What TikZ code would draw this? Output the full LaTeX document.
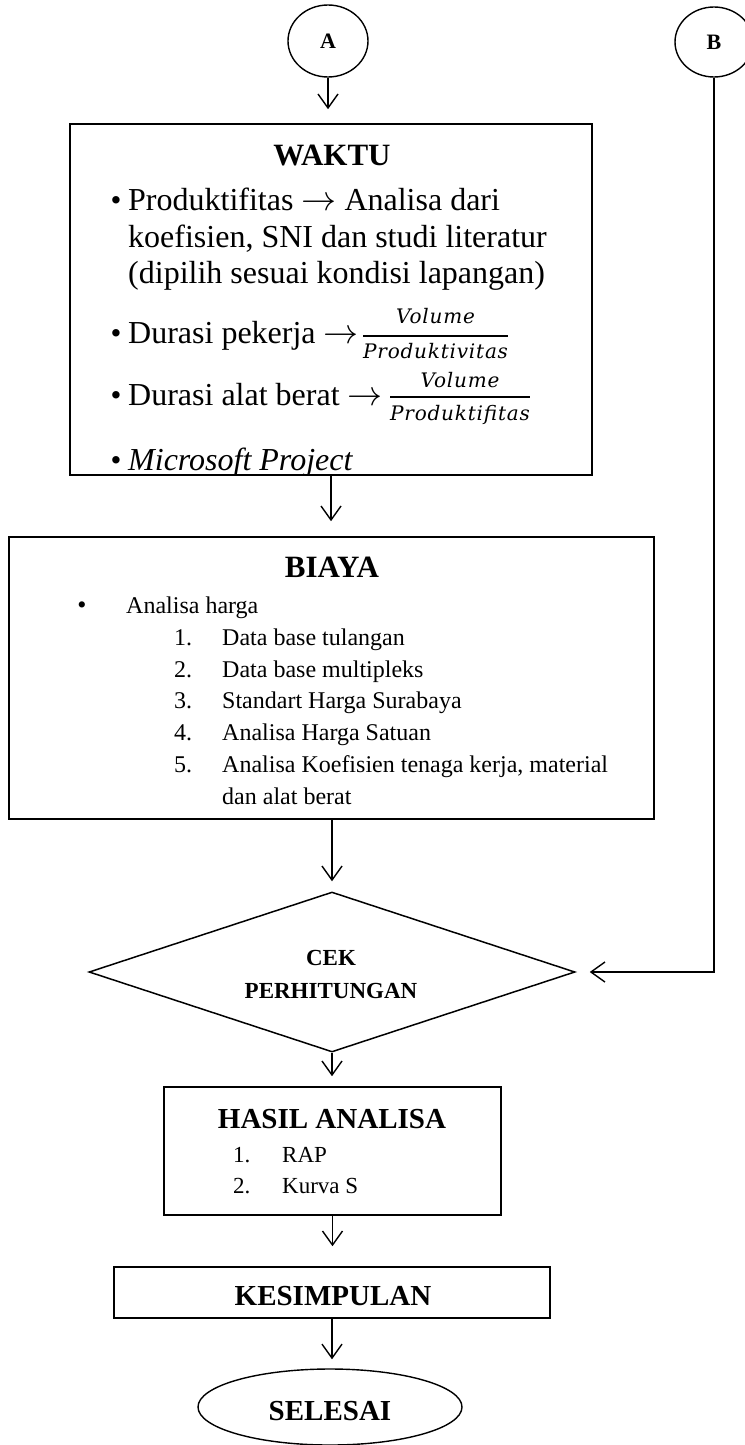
\RequirePackage{fix-cm}
\documentclass[tikz,border=0pt]{standalone}
\usepackage{fontspec}
\setmainfont{Liberation Serif}
\newfontfamily\fracfont[LetterSpace=4]{DejaVu Serif}
\newcommand\longarr{\resizebox{35pt}{!}{$\rightarrow$}}
\usetikzlibrary{shapes.geometric,arrows.meta}
\begin{document}
\begin{tikzpicture}[x=1pt,y=-1pt,
  box/.style={draw, rectangle, inner sep=0pt, line width=1.6pt},
  term/.style={draw, ellipse, inner sep=0pt, line width=1.4pt},
  arr/.style={-{Straight Barb[length=14pt,width=20pt,line width=1.4pt]}, line width=1.4pt},
  ttl/.style={anchor=base, inner sep=0pt, font=\bfseries\fontsize{31}{31}\selectfont},
  ttlb/.style={anchor=base, inner sep=0pt, font=\bfseries\fontsize{29}{29}\selectfont},
  ttlc/.style={anchor=base, inner sep=0pt, font=\bfseries\fontsize{23}{23}\selectfont},
  big/.style={anchor=base west, inner sep=0pt, font=\fontsize{32}{32}\selectfont},
  bul/.style={anchor=base, inner sep=0pt, font=\fontsize{31}{31}\selectfont},
  sml/.style={anchor=base west, inner sep=0pt, font=\fontsize{24}{24}\selectfont},
  smr/.style={anchor=base west, inner sep=0pt, font=\fontsize{23}{23}\selectfont},
  frc/.style={anchor=base, inner sep=0pt, font=\fracfont\itshape\fontsize{20}{20}\selectfont},
]
\useasboundingbox (0,0) rectangle (744,1445);

% shapes
\node[term, minimum width=80pt, minimum height=72pt, font=\bfseries\fontsize{22}{22}\selectfont] (A) at (328,41) {A};
\node[term, minimum width=78pt, minimum height=70pt, font=\bfseries\fontsize{22}{22}\selectfont] (B) at (714,42) {B};
\node[box, minimum width=522pt, minimum height=351pt] (waktu) at (331,299.5) {};
\node[box, minimum width=645pt, minimum height=282pt] (biaya) at (331.5,678) {};
\node[draw, diamond, inner sep=0pt, line width=1.5pt, minimum width=486pt, minimum height=160pt] (cek) at (332,972) {};
\node[box, minimum width=337pt, minimum height=128pt] (hasil) at (332.5,1151) {};
\node[box, minimum width=436pt, minimum height=51pt] (kes) at (332,1292.5) {};
\node[term, minimum width=264pt, minimum height=76pt] (sel) at (330,1407) {};

% WAKTU content
\node[ttl] (tw) at (332,165) {WAKTU};
\node[bul] (b1) at (116,210) {•};
\node[big] (w1) at (128,210) {Produktifitas \longarr{} Analisa dari};
\node[big] (w2) at (128,247) {koefisien, SNI dan studi literatur};
\node[big] (w3) at (128,283) {(dipilih sesuai kondisi lapangan)};
\node[bul] (b2) at (116,343) {•};
\node[big] (w4) at (128,343) {Durasi pekerja \longarr};
\node[frc, anchor=base west] (d1) at (363,358) {Produktivitas};
\node[frc] (n1) at (d1.center |- 0,323) {Volume};
\draw[line width=1.6pt] (d1.west |- 0,336) -- (d1.east |- 0,336);
\node[bul] (b3) at (116,405) {•};
\node[big] (w5) at (128,405) {Durasi alat berat \longarr};
\node[frc, anchor=base west] (d2) at (390,420) {Produktifitas};
\node[frc] (n2) at (d2.center |- 0,387) {Volume};
\draw[line width=1.6pt] (d2.west |- 0,397) -- (d2.east |- 0,397);
\begin{scope}
\clip (waktu.north west) rectangle (waktu.south east);
\node[bul] (b4) at (116,470) {•};
\node[big] (w6) at (128,470) {\itshape Microsoft Project};
\end{scope}

% BIAYA content
\node[ttl] (tb) at (332,577) {BIAYA};
\node[anchor=base, inner sep=0pt, font=\fontsize{26}{26}\selectfont] (b5) at (82,613) {•};
\node[sml] (c0) at (126,613) {Analisa harga};
\node[sml] (k1) at (174,645) {1.};
\node[sml] (c1) at (222,645) {Data base tulangan};
\node[sml] (k2) at (174,677) {2.};
\node[sml] (c2) at (222,677) {Data base multipleks};
\node[sml] (k3) at (174,708) {3.};
\node[sml] (c3) at (222,708) {Standart Harga Surabaya};
\node[sml] (k4) at (174,740) {4.};
\node[sml] (c4) at (222,740) {Analisa Harga Satuan};
\node[sml] (k5) at (174,772) {5.};
\node[sml] (c5) at (222,772) {Analisa Koefisien tenaga kerja, material};
\node[sml] (c6) at (222,804) {dan alat berat};

% CEK
\node[ttlc] (t1) at (331,965) {CEK};
\node[ttlc] (t2) at (331,998) {PERHITUNGAN};

% HASIL
\node[ttlb] (th) at (332,1128) {HASIL ANALISA};
\node[smr] (h1n) at (233,1162) {1.};
\node[smr] (h1) at (282,1162) {RAP};
\node[smr] (h2n) at (233,1193) {2.};
\node[smr] (h2) at (282,1193) {Kurva S};

\node[ttlb] (tk) at (333,1305) {KESIMPULAN};
\node[ttlb] (ts) at (330,1420) {SELESAI};

% connectors
\draw[arr, shorten >=14pt] (A.south) -- (A.south |- waktu.north);
\draw[arr, shorten >=15pt] (waktu.south) -- (waktu.south |- biaya.north);
\draw[arr, shorten >=10pt] (cek.north |- biaya.south) -- (cek.north);
\draw[arr, shorten >=10pt] (cek.south) -- (cek.south |- hasil.north);
\draw[arr, shorten >=20pt] (hasil.south) -- (hasil.south |- kes.north);
\draw[arr, shorten >=9pt] (kes.south) -- (kes.south |- sel.north);
\draw[arr, shorten >=14pt] (B.south) |- (cek.east);
\end{tikzpicture}
\end{document}
